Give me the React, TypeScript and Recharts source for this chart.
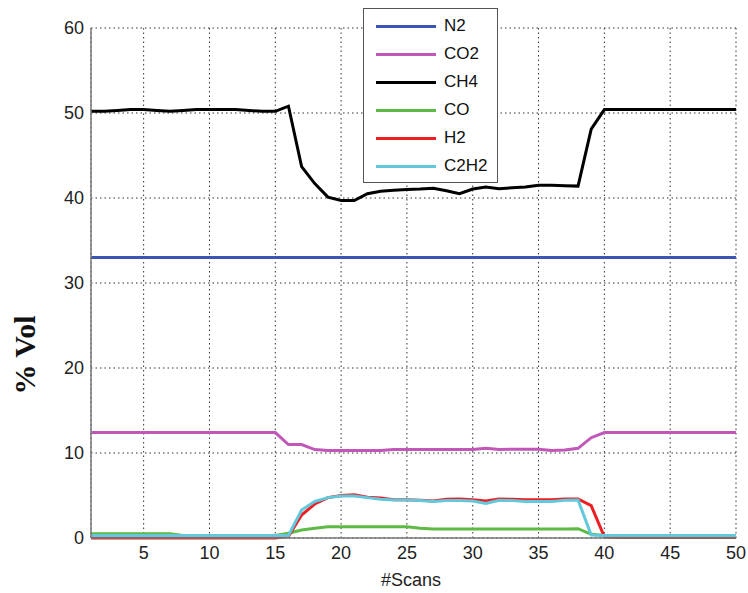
import React from "react";
import { LineChart, Line, XAxis, YAxis, CartesianGrid } from "recharts";

const scans = [
  1, 2, 3, 4, 5, 6, 7, 8, 9, 10, 11, 12, 13, 14, 15, 16, 17, 18, 19, 20, 21, 22, 23, 24, 25,
  26, 27, 28, 29, 30, 31, 32, 33, 34, 35, 36, 37, 38, 39, 40, 41, 42, 43, 44, 45, 46, 47, 48, 49, 50,
];

const n2 = [
  33, 33, 33, 33, 33, 33, 33, 33, 33, 33, 33, 33, 33, 33, 33, 33, 33, 33, 33, 33, 33, 33, 33, 33, 33,
  33, 33, 33, 33, 33, 33, 33, 33, 33, 33, 33, 33, 33, 33, 33, 33, 33, 33, 33, 33, 33, 33, 33, 33, 33,
];

const co2 = [
  12.4, 12.4, 12.4, 12.4, 12.4, 12.4, 12.4, 12.4, 12.4, 12.4, 12.4, 12.4, 12.4, 12.4, 12.4,
  11.0, 11.0, 10.4, 10.3, 10.3, 10.3, 10.3, 10.3, 10.4, 10.4, 10.4, 10.4, 10.4, 10.4, 10.4,
  10.55, 10.4, 10.45, 10.45, 10.45, 10.3, 10.35, 10.55, 11.8, 12.4,
  12.4, 12.4, 12.4, 12.4, 12.4, 12.4, 12.4, 12.4, 12.4, 12.4,
];

const ch4 = [
  50.2, 50.2, 50.3, 50.4, 50.4, 50.3, 50.2, 50.3, 50.4, 50.4, 50.4, 50.4, 50.3, 50.2, 50.2,
  50.8, 43.7, 41.7, 40.1, 39.7, 39.7, 40.5, 40.8, 40.9, 41.0, 41.05, 41.15, 40.85, 40.5, 41.05,
  41.3, 41.1, 41.2, 41.3, 41.5, 41.5, 41.45, 41.4, 48.1, 50.4,
  50.4, 50.4, 50.4, 50.4, 50.4, 50.4, 50.4, 50.4, 50.4, 50.4,
];

const co = [
  0.5, 0.5, 0.5, 0.5, 0.5, 0.5, 0.5, 0.3, 0.3, 0.3, 0.3, 0.3, 0.3, 0.3, 0.3,
  0.55, 0.95, 1.15, 1.33, 1.33, 1.33, 1.33, 1.33, 1.33, 1.33, 1.15, 1.06, 1.06, 1.06, 1.06,
  1.06, 1.05, 1.05, 1.05, 1.05, 1.05, 1.05, 1.1, 0.43, 0.3,
  0.3, 0.3, 0.3, 0.3, 0.3, 0.3, 0.3, 0.3, 0.3, 0.3,
];

const h2 = [
  0, 0, 0, 0, 0, 0, 0, 0, 0, 0, 0, 0, 0, 0, 0,
  0.2, 2.7, 4.0, 4.75, 5.0, 5.1, 4.8, 4.7, 4.5, 4.5, 4.45, 4.35, 4.55, 4.6, 4.5,
  4.35, 4.6, 4.55, 4.5, 4.5, 4.5, 4.6, 4.6, 3.8, 0.15,
  0.05, 0.05, 0.05, 0.05, 0.05, 0.05, 0.05, 0.05, 0.05, 0.05,
];

const c2h2 = [
  0.3, 0.3, 0.3, 0.3, 0.3, 0.3, 0.3, 0.3, 0.3, 0.3, 0.3, 0.3, 0.3, 0.3, 0.3,
  0.3, 3.3, 4.3, 4.75, 4.95, 4.95, 4.75, 4.55, 4.47, 4.47, 4.4, 4.3, 4.4, 4.4, 4.35,
  4.05, 4.45, 4.4, 4.3, 4.3, 4.3, 4.45, 4.47, 0.35, 0.3,
  0.3, 0.3, 0.3, 0.3, 0.3, 0.3, 0.3, 0.3, 0.3, 0.3,
];

const xTicks = [5, 10, 15, 20, 25, 30, 35, 40, 45, 50];
const yTicks = [0, 10, 20, 30, 40, 50, 60];

const series = [
  { key: "N2", color: "#3a55b4" },
  { key: "CO2", color: "#c157b9" },
  { key: "CH4", color: "#000000" },
  { key: "CO", color: "#5dbb45" },
  { key: "H2", color: "#ee1f24" },
  { key: "C2H2", color: "#62c8dc" },
];

const data = scans.map((s, i) => ({
  scan: s,
  N2: n2[i],
  CO2: co2[i],
  CH4: ch4[i],
  CO: co[i],
  H2: h2[i],
  C2H2: c2h2[i],
}));

const font = "'Liberation Sans', Arial, sans-serif";

// MATLAB-style legend box, laid over the plot
function LegendBox() {
  return (
    <div
      style={{
        position: "absolute",
        left: 363,
        top: 8,
        width: 135,
        height: 175,
        border: "1px solid #555",
        background: "#fff",
        boxSizing: "border-box",
        paddingTop: 3,
        fontFamily: font,
        fontSize: 17,
        color: "#111",
      }}
    >
      {series.map((s) => (
        <div key={s.key} style={{ display: "flex", alignItems: "center", height: 28 }}>
          <div style={{ width: 60, height: 3, background: s.color, marginLeft: 12, marginRight: 8 }} />
          <span>{s.key}</span>
        </div>
      ))}
    </div>
  );
}

export default function App() {
  return (
    <div style={{ position: "absolute", left: 0, top: 0, width: 748, height: 593, background: "#fff" }}>
      <LineChart
        width={748}
        height={593}
        data={data}
        margin={{ top: 28, right: 12, bottom: 15, left: 0 }}
      >
        <CartesianGrid stroke="#333" strokeDasharray="1.5 3" vertical horizontal />
        <XAxis
          dataKey="scan"
          type="number"
          domain={[1, 50]}
          ticks={xTicks}
          height={40}
          tickLine={false}
          tickSize={6}
          axisLine={{ stroke: "#777", strokeWidth: 1.5 }}
          tick={{ fontSize: 18, fill: "#222", fontFamily: font }}
          label={{
            content: () => (
              <text x={411} y={586} textAnchor="middle" fontSize={18} fill="#222" fontFamily={font}>
                #Scans
              </text>
            ),
          }}
        />
        <YAxis
          type="number"
          domain={[0, 60]}
          ticks={yTicks}
          width={91}
          tickLine={false}
          tickSize={5}
          axisLine={{ stroke: "#777", strokeWidth: 1.5 }}
          tick={{ fontSize: 18, fill: "#222", fontFamily: font }}
          label={{
            content: () => (
              <text
                x={35}
                y={355}
                transform="rotate(-90 35 355)"
                textAnchor="middle"
                fontSize={30}
                fontWeight="bold"
                fill="#111"
                fontFamily="'Liberation Serif', 'Times New Roman', serif"
              >
                % Vol
              </text>
            ),
          }}
        />
        {series.map((s) => (
          <Line
            key={s.key}
            type="linear"
            dataKey={s.key}
            stroke={s.color}
            strokeWidth={3}
            dot={false}
            isAnimationActive={false}
          />
        ))}
      </LineChart>
      <LegendBox />
    </div>
  );
}
